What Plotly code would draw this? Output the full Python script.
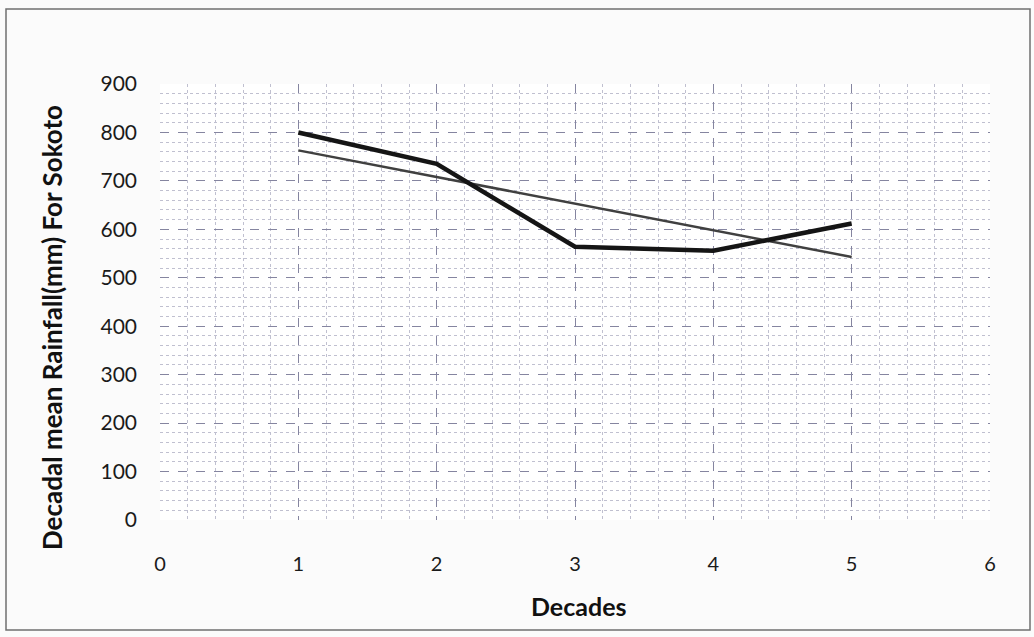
import plotly.graph_objects as go

decades = [1, 2, 3, 4, 5]
rainfall = [800, 735, 564, 556, 612]
trend_x = [1, 5]
trend_y = [763, 543]

W, H = 1034, 637
L, R, T, B = 160, 990, 84, 520

fig = go.Figure()
fig.add_trace(go.Scatter(x=trend_x, y=trend_y, mode="lines",
                         line=dict(color="#404040", width=2.5), showlegend=False))
fig.add_trace(go.Scatter(x=decades, y=rainfall, mode="lines",
                         line=dict(color="#151515", width=4.5), showlegend=False))

grid_major = "#8585a0"
grid_minor = "#c0c0d0"
fig.update_xaxes(range=[0, 6], dtick=1, tick0=0, showgrid=True, gridcolor=grid_major,
                 griddash="dash", gridwidth=1, zeroline=False, showline=False,
                 ticks="", ticklabelstandoff=30,
                 tickfont=dict(family="Lato", size=20, color="#1a1a1a"),
                 minor=dict(dtick=0.2, showgrid=True, gridcolor=grid_minor, griddash="dot"))
fig.update_yaxes(range=[0, 900], dtick=100, tick0=0, showgrid=True, gridcolor=grid_major,
                 griddash="dash", gridwidth=1, zeroline=False, showline=False,
                 ticks="", ticklabelstandoff=22,
                 tickfont=dict(family="Lato", size=21, color="#1a1a1a"),
                 minor=dict(dtick=20, showgrid=True, gridcolor=grid_minor, griddash="dot"))

def px(x):
    return (x - L) / (R - L)

def py(y):
    return (B - y) / (B - T)

fig.add_annotation(text="<b>Decades</b>", x=px(578), y=py(606), xref="paper", yref="paper",
                   xanchor="center", yanchor="middle",
                   showarrow=False, font=dict(family="Lato", size=25, color="#111"))
fig.add_annotation(text="<b>Decadal mean Rainfall(mm) For Sokoto</b>", x=px(52), y=py(328),
                   xref="paper", yref="paper", textangle=-90, showarrow=False,
                   xanchor="center", yanchor="middle",
                   font=dict(family="Lato", size=26, color="#111"))

fig.add_shape(type="rect", xref="paper", yref="paper", x0=px(6), x1=px(1030), y0=py(630), y1=py(9),
              line=dict(color="#707070", width=1.5), layer="below")

fig.update_layout(width=W, height=H, margin=dict(l=L, r=W - R, t=T, b=H - B),
                  paper_bgcolor="#fbfbfb", plot_bgcolor="#ffffff", showlegend=False)

fig.write_html("out.html")
